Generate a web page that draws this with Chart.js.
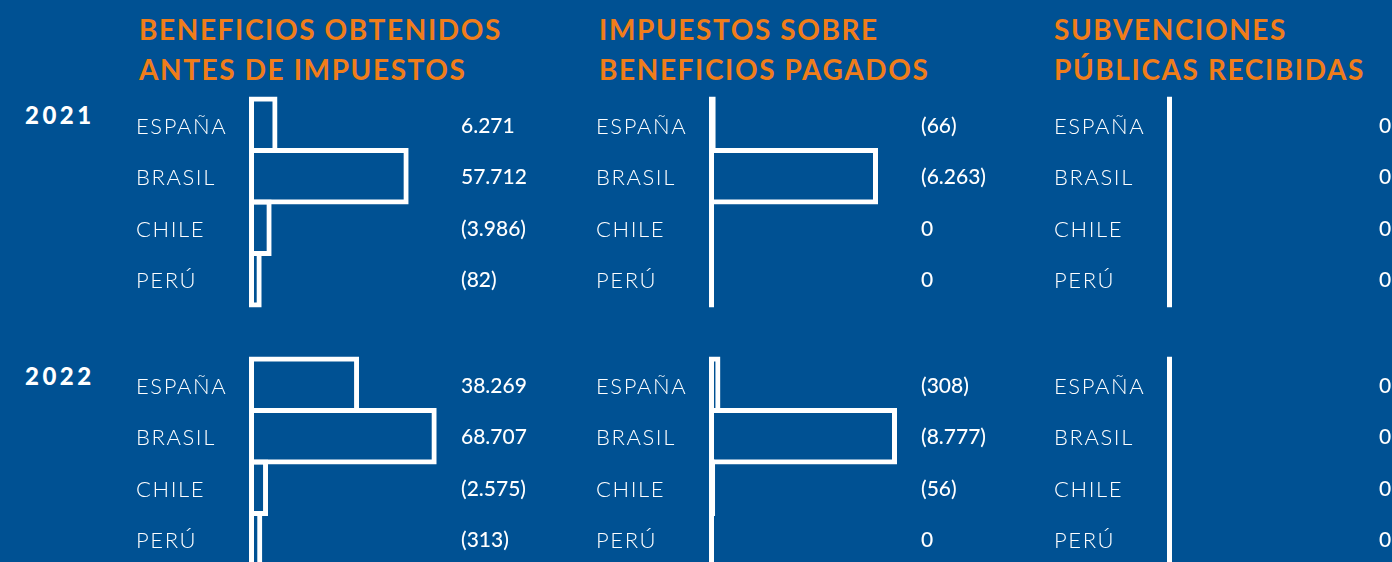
<!DOCTYPE html>
<html>
<head>
    <meta charset="utf-8">
    <title>Beneficios, impuestos y subvenciones por país</title>
    <script src="https://cdn.jsdelivr.net/npm/chart.js"></script>
    <style>
        body {
            margin: 0;
            width: 1392px;
            height: 562px;
            overflow: hidden;
            position: relative;
            background-color: #005193;
            font-family: Lato, sans-serif;
        }
        .title {
            position: absolute;
            top: 9px;
            color: #f07d1a;
            font-weight: bold;
            font-size: 28px;
            line-height: 40px;
            letter-spacing: 1.6px;
            white-space: nowrap;
        }
        .year {
            position: absolute;
            left: 25px;
            color: #fff;
            font-weight: 900;
            font-size: 24px;
            letter-spacing: 3.5px;
        }
        .panel {
            position: absolute;
            width: 419px;
            height: 212px;
        }
    </style>
</head>
<body>
    <div class="title" style="left:139px">BENEFICIOS OBTENIDOS<br>ANTES DE IMPUESTOS</div>
    <div class="title" style="left:599px">IMPUESTOS SOBRE<br>BENEFICIOS PAGADOS</div>
    <div class="title" style="left:1054px">SUBVENCIONES<br>PÚBLICAS RECIBIDAS</div>

    <div class="year" style="top:100px">2021</div>
    <div class="year" style="top:361px">2022</div>

    <div class="panel" style="left:136px; top:96px"><canvas id="ben2021"></canvas></div>
    <div class="panel" style="left:596px; top:96px"><canvas id="imp2021"></canvas></div>
    <div class="panel" style="left:1054px; top:96px"><canvas id="sub2021"></canvas></div>
    <div class="panel" style="left:136px; top:356px"><canvas id="ben2022"></canvas></div>
    <div class="panel" style="left:596px; top:356px"><canvas id="imp2022"></canvas></div>
    <div class="panel" style="left:1054px; top:356px"><canvas id="sub2022"></canvas></div>

<script>
    // Miles de euros; negativos se muestran entre paréntesis
    const countries = ['ESPAÑA', 'BRASIL', 'CHILE', 'PERÚ'];

    const beneficios2021 = [6271, 57712, -3986, -82];
    const beneficios2022 = [38269, 68707, -2575, -313];

    const impuestos2021 = [-66, -6263, 0, 0];
    const impuestos2022 = [-308, -8777, -56, 0];

    const subvenciones2021 = [0, 0, 0, 0];
    const subvenciones2022 = [0, 0, 0, 0];

    // "6.271" / "(3.986)"
    function formatValue(v) {
        const s = String(Math.abs(v)).replace(/\B(?=(\d{3})+(?!\d))/g, '.');
        return v < 0 ? '(' + s + ')' : s;
    }

    // category labels get a bit of letter spacing, value labels don't
    const spacedLabels = {
        id: 'spacedLabels',
        beforeDraw(chart) {
            const axis = chart.scales.y;
            if (axis._spaced) return;
            const drawLabels = axis.drawLabels.bind(axis);
            axis.drawLabels = area => {
                chart.ctx.save();
                chart.ctx.letterSpacing = '1.6px';
                drawLabels(area);
                chart.ctx.restore();
            };
            axis._spaced = true;
        }
    };

    // no extra room above/below the rows for half a label
    function fixAxis(width) {
        return axis => {
            axis.width = width;
            axis.paddingTop = 0;
            axis.paddingBottom = 0;
        };
    }

    function createChart(id, values, xMin, xMax) {
        const ctx = document.getElementById(id).getContext('2d');
        return new Chart(ctx, {
            type: 'bar',
            data: {
                labels: countries,
                datasets: [{
                    data: values.map(v => Math.abs(v)),
                    base: xMin,
                    borderColor: '#ffffff',
                    backgroundColor: 'rgba(0, 0, 0, 0)',
                    borderWidth: 5,
                    borderSkipped: false,
                    inflateAmount: 0,
                    barThickness: 56.5,
                    clip: false
                }]
            },
            plugins: [spacedLabels],
            options: {
                indexAxis: 'y',
                responsive: true,
                maintainAspectRatio: false,
                animation: false,
                layout: { padding: { top: 3, bottom: 3, left: 0, right: 0 } },
                plugins: {
                    legend: { display: false },
                    tooltip: { enabled: false }
                },
                scales: {
                    x: {
                        display: false,
                        min: xMin,
                        max: xMax
                    },
                    y: {
                        position: 'left',
                        offset: true,
                        grid: { display: false, drawTicks: false },
                        border: { display: false },
                        ticks: {
                            crossAlign: 'far',
                            labelOffset: 2,
                            color: '#ffffff',
                            font: { family: 'Lato', size: 22, weight: '300' }
                        },
                        afterFit: fixAxis(113)
                    },
                    yv: {
                        type: 'category',
                        position: 'right',
                        labels: values.map(formatValue),
                        offset: true,
                        grid: { display: false, drawTicks: false },
                        border: { display: false },
                        ticks: {
                            padding: 6,
                            labelOffset: 1,
                            color: '#ffffff',
                            font: { family: 'Lato', size: 21, weight: '500' }
                        },
                        afterFit: fixAxis(100)
                    }
                }
            }
        });
    }

    createChart('ben2021', beneficios2021, -4900, 75880);
    createChart('ben2022', beneficios2022, -4900, 75880);
    createChart('imp2021', impuestos2021, -191, 7675);
    createChart('imp2022', impuestos2022, -240, 9640);
    createChart('sub2021', subvenciones2021, -1, 40.2);
    createChart('sub2022', subvenciones2022, -1, 40.2);
</script>
</body>
</html>
